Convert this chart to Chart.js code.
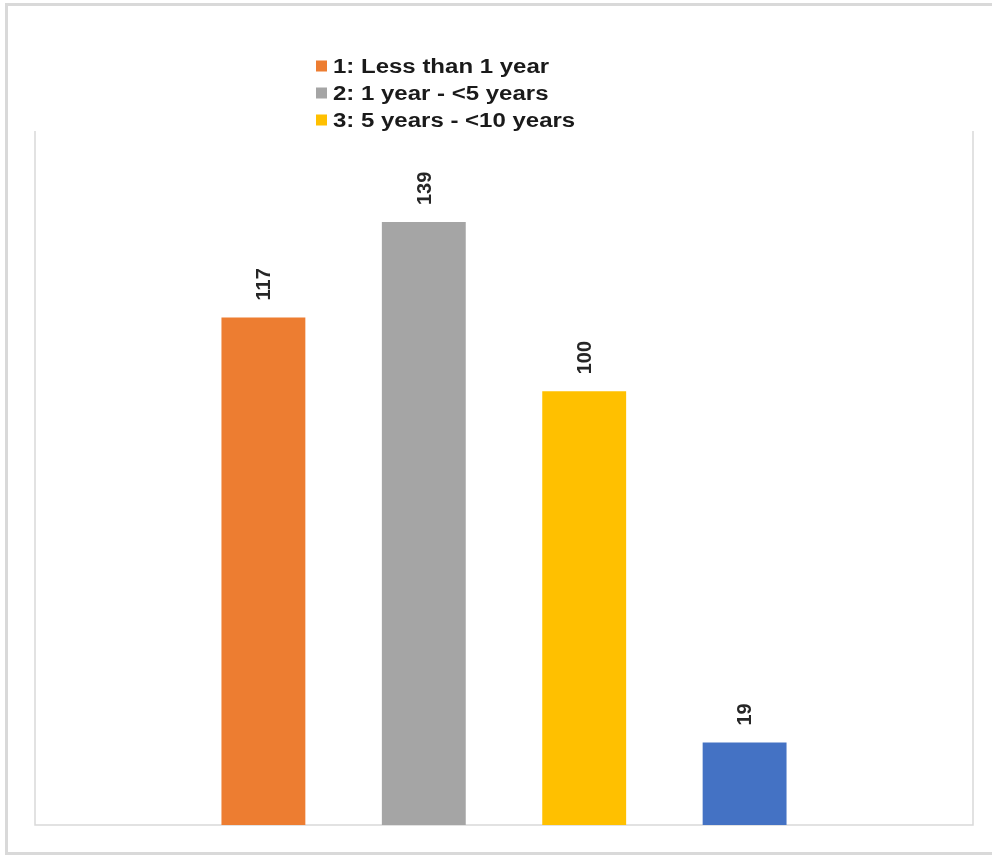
<!DOCTYPE html>
<html>
<head>
<meta charset="utf-8">
<script src="https://cdn.jsdelivr.net/npm/chart.js@4.4.1/dist/chart.umd.min.js"></script>
<style>
    html, body { margin: 0; padding: 0; background: #fff; overflow: hidden; }
    #frame {
        position: absolute; left: 5px; top: 3px; width: 1000px; height: 852px;
        border: 3px solid #d9d9d9; box-sizing: border-box; pointer-events: none;
    }
    #wrap { position: absolute; left: 0; top: 0; width: 992px; height: 860px; }
</style>
</head>
<body>
<div id="wrap"><canvas id="tenure-chart" width="992" height="860"></canvas></div>
<div id="frame"></div>
<script>
// Data
const groups = ["1: Less than 1 year", "2: 1 year - <5 years", "3: 5 years - <10 years", "4: 10 years or more"];
const counts = [117, 139, 100, 19];
const colors = ["#ED7D31", "#A5A5A5", "#FFC000", "#4472C4"];
const legendShown = 3; // only first three entries are visible in the legend
const yMax = 160;

// one dataset per group, all in a single category
const datasets = groups.map((g, i) => ({
    label: g,
    data: [counts[i]],
    backgroundColor: colors[i],
    borderWidth: 0,
    categoryPercentage: 0.684,
    barPercentage: 0.523,
}));

// the source image is stretched sideways, so text gets a wider scale
const legendStretch = 1.2;
const labelStretch = 1.05;

// Plot frame: left, bottom, right lines
const plotFrame = {
    id: "plotFrame",
    beforeDatasetsDraw(chart) {
        const { ctx, chartArea: a } = chart;
        ctx.save();
        ctx.strokeStyle = "#d9d9d9";
        ctx.lineWidth = 1.5;
        ctx.beginPath();
        ctx.moveTo(a.left, a.top);
        ctx.lineTo(a.left, a.bottom);
        ctx.lineTo(a.right, a.bottom);
        ctx.lineTo(a.right, a.top);
        ctx.stroke();
        ctx.restore();
    },
};

// Rotated value labels above each bar
const valueLabels = {
    id: "valueLabels",
    afterDatasetsDraw(chart) {
        const ctx = chart.ctx;
        ctx.save();
        ctx.font = "bold 20px 'Liberation Sans', Arial, sans-serif";
        ctx.fillStyle = "#262626";
        ctx.textAlign = "left";
        ctx.textBaseline = "middle";
        chart.data.datasets.forEach((ds, i) => {
            const bar = chart.getDatasetMeta(i).data[0];
            ctx.save();
            ctx.translate(bar.x + 1, bar.y - 17);
            ctx.rotate(-Math.PI / 2);
            ctx.scale(1, labelStretch);
            ctx.fillText(String(ds.data[0]), 0, 0);
            ctx.restore();
        });
        ctx.restore();
    },
};

// Stacked legend at top
const stackedLegend = {
    id: "stackedLegend",
    afterDraw(chart) {
        const ctx = chart.ctx;
        ctx.save();
        ctx.font = "bold 20px 'Liberation Sans', Arial, sans-serif";
        ctx.textBaseline = "middle";
        ctx.textAlign = "left";
        chart.data.datasets.slice(0, legendShown).forEach((ds, i) => {
            const y = 66 + i * 27;
            ctx.fillStyle = ds.backgroundColor;
            ctx.fillRect(316, y - 5.5, 11, 11);
            ctx.save();
            ctx.translate(333, y + 1);
            ctx.scale(legendStretch, 1);
            ctx.fillStyle = "#1a1a1a";
            ctx.fillText(ds.label, 0, 0);
            ctx.restore();
        });
        ctx.restore();
    },
};

const chart = new Chart(document.getElementById("tenure-chart"), {
    type: "bar",
    data: { labels: [""], datasets: datasets },
    options: {
        responsive: false,
        animation: false,
        layout: { padding: { left: 35, right: 19, top: 131, bottom: 35 } },
        plugins: { legend: { display: false }, tooltip: { enabled: false } },
        scales: {
            x: { display: false },
            y: { display: false, min: 0, max: yMax },
        },
    },
    plugins: [plotFrame, valueLabels, stackedLegend],
});
</script>
</body>
</html>
